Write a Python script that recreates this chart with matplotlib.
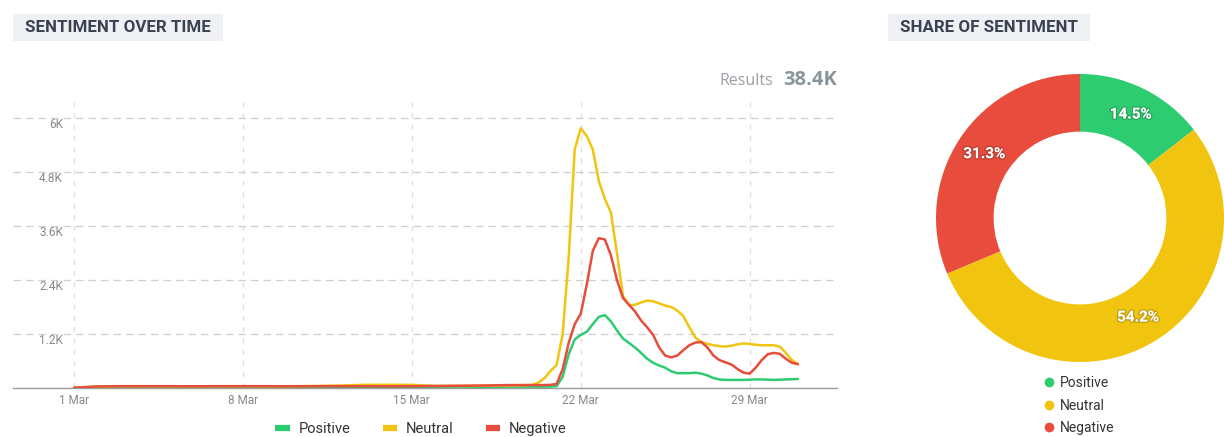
import matplotlib.pyplot as plt
from matplotlib.lines import Line2D
from matplotlib.patches import Rectangle
import matplotlib.patheffects as pe

plt.rcParams['font.family'] = ['Roboto', 'DejaVu Sans']

# days since 1 Mar
days = [0, 1, 2, 3, 4, 5, 6, 7, 8, 9, 10, 11, 12, 13, 14, 15, 16, 17, 18, 18.5,
        19, 19.25, 19.5, 19.75, 20, 20.25, 20.5, 20.75, 21, 21.25, 21.5, 21.75,
        22, 22.25, 22.5, 22.75, 23, 23.25, 23.5, 23.75, 24, 24.25, 24.5, 24.75,
        25, 25.25, 25.5, 25.75, 26, 26.25, 26.5, 26.75, 27, 27.25, 27.5, 27.75,
        28, 28.25, 28.5, 28.75, 29, 29.25, 29.5, 29.75, 30]

positive = [5, 20, 22, 22, 20, 20, 22, 22, 20, 20, 22, 22, 20, 20, 22, 22, 25, 28, 30, 30,
            30, 30, 30, 32, 40, 250, 750, 1080, 1180, 1250, 1420, 1580,
            1620, 1480, 1280, 1100, 1000, 900, 780, 650, 560, 500, 450, 370,
            330, 330, 330, 340, 320, 280, 220, 190, 180, 180, 180, 180,
            185, 190, 190, 185, 180, 185, 190, 195, 200]
neutral = [5, 35, 40, 40, 38, 38, 40, 40, 38, 40, 45, 55, 70, 72, 70, 45, 45, 50, 55, 60,
           70, 120, 220, 380, 510, 1200, 2900, 5300, 5770, 5600, 5300, 4600,
           4200, 3900, 3000, 2050, 1840, 1850, 1900, 1940, 1930, 1880, 1830, 1800,
           1720, 1600, 1350, 1120, 1020, 980, 950, 930, 920, 940, 970, 990,
           980, 960, 950, 950, 950, 920, 780, 620, 530]
negative = [5, 35, 40, 40, 40, 38, 40, 40, 40, 38, 40, 40, 40, 38, 40, 45, 50, 55, 65, 65,
            65, 65, 65, 70, 90, 420, 1000, 1420, 1650, 2300, 3050, 3330,
            3300, 2950, 2400, 2000, 1850, 1700, 1500, 1350, 1180, 900, 720, 680,
            720, 840, 950, 1010, 1020, 900, 720, 620, 570, 520, 420, 340,
            320, 450, 620, 750, 780, 760, 650, 560, 530]

date_ticks = [0, 7, 14, 21, 28]
date_labels = ['1 Mar', '8 Mar', '15 Mar', '22 Mar', '29 Mar']
y_ticks = [1200, 2400, 3600, 4800, 6000]
y_labels = ['1.2K', '2.4K', '3.6K', '4.8K', '6K']

names = ['Positive', 'Neutral', 'Negative']
shares = [14.5, 54.2, 31.3]
colors = ['#2ecc71', '#f1c40f', '#e74c3c']
total = '38.4K'

W, H = 1224, 437
fig = plt.figure(figsize=(W / 100, H / 100), dpi=100)

# ---- sentiment over time
ax = fig.add_axes([13 / W, 1 - 388 / H, 824 / W, 288 / H])
for series, c in zip([positive, neutral, negative], colors):
    ax.plot(days, series, color=c, lw=1.8, solid_joinstyle='round',
            solid_capstyle='round', zorder=3)

ax.set_xlim(-2.53, 31.62)
ax.set_ylim(0, 6400)
ax.set_xticks(date_ticks, date_labels)
ax.set_yticks(y_ticks, y_labels)
ax.tick_params(length=0, colors='#888888', labelsize=8.5)
ax.tick_params(axis='x', pad=4)
ax.tick_params(axis='y', pad=-36)
for lab in ax.get_yticklabels():
    lab.set_verticalalignment('top')

ax.grid(axis='y', color='#cfcfcf', lw=0.9, dashes=(6, 4))
ax.grid(axis='x', color='#dedede', lw=0.9, dashes=(4, 5))
for s in ['top', 'right', 'left']:
    ax.spines[s].set_visible(False)
ax.spines['bottom'].set_color('#9a9a9a')
ax.spines['bottom'].set_linewidth(1)

handles = [Line2D([], [], color=c, lw=4.5, solid_capstyle='butt') for c in colors]
fig.legend(handles, names, loc='center', bbox_to_anchor=(421 / W, 1 - 429 / H),
           ncol=3, frameon=False, handlelength=1.0, handletextpad=0.6,
           columnspacing=2.2, fontsize=10.5, labelcolor='#333333')

fig.text(773 / W, 1 - 81 / H, 'Results', ha='right', va='center',
         fontsize=11.5, color='#9aa0a4', family=['Open Sans', 'DejaVu Sans'])
fig.text(837 / W, 1 - 80 / H, total, ha='right', va='center',
         fontsize=14.5, fontweight='bold', color='#8a9599',
         family=['Open Sans', 'DejaVu Sans'])

# section headers
for x0, x1, title in [(13, 223, 'SENTIMENT OVER TIME'), (888, 1090, 'SHARE OF SENTIMENT')]:
    fig.patches.append(Rectangle((x0 / W, 1 - 41 / H), (x1 - x0) / W, 27 / H,
                                 transform=fig.transFigure, fc='#eef0f3', ec='none'))
    fig.text((x0 + 12) / W, 1 - 28 / H, title, ha='left', va='center',
             fontsize=12.2, fontweight='bold', color='#3a4150')

# ---- share of sentiment
pax = fig.add_axes([936 / W, 1 - 362 / H, 288 / W, 288 / H])
wedges, _, pcts = pax.pie(shares, colors=colors, startangle=90, counterclock=False,
                          wedgeprops=dict(width=0.4, edgecolor='none'),
                          autopct='%.1f%%', pctdistance=0.8)
for t in pcts:
    t.set_color('white')
    t.set_fontsize(11)
    t.set_fontweight('bold')
    t.set_path_effects([pe.withStroke(linewidth=2, foreground=(0, 0, 0, 0.18))])
pax.set_xlim(-1, 1)
pax.set_ylim(-1, 1)
pax.set_aspect('equal')

dots = [Line2D([], [], marker='o', ls='', ms=6, color=c) for c in colors]
fig.legend(dots, names, loc='upper left', bbox_to_anchor=(1036 / W, 1 - 369 / H),
           frameon=False, handlelength=0.8, handletextpad=0.4, labelspacing=0.62,
           fontsize=10, labelcolor='#333333', borderpad=0)

fig.savefig('out.png', dpi=100, facecolor='white')
